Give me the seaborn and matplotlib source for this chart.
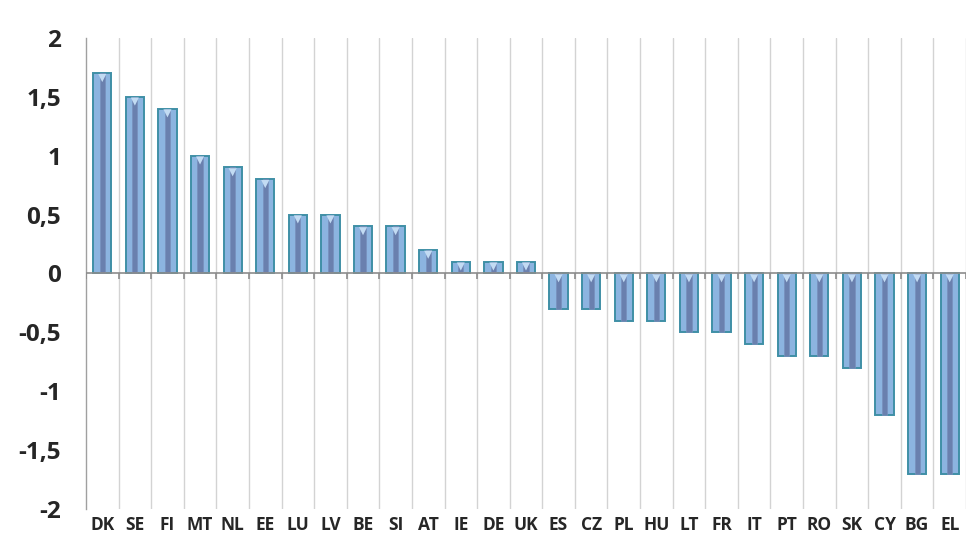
import matplotlib
matplotlib.use("Agg")
import matplotlib.pyplot as plt
import matplotlib.transforms as mtrans
import numpy as np
import pandas as pd
import seaborn as sns

countries = ["DK", "SE", "FI", "MT", "NL", "EE", "LU", "LV", "BE", "SI", "AT", "IE", "DE", "UK",
             "ES", "CZ", "PL", "HU", "LT", "FR", "IT", "PT", "RO", "SK", "CY", "BG", "EL"]
values = [1.7, 1.5, 1.4, 1.0, 0.9, 0.8, 0.5, 0.5, 0.4, 0.4, 0.2, 0.1, 0.1, 0.1,
          -0.3, -0.3, -0.4, -0.4, -0.5, -0.5, -0.6, -0.7, -0.7, -0.8, -1.2, -1.7, -1.7]
y_ticks = [2, 1.5, 1, 0.5, 0, -0.5, -1, -1.5, -2]
y_tick_labels = ["2", "1,5", "1", "0,5", "0", "-0,5", "-1", "-1,5", "-2"]

df = pd.DataFrame({"country": countries, "value": values})

sns.set_theme(style="white")
plt.rcParams["font.family"] = ["Open Sans", "DejaVu Sans"]

fig = plt.figure(figsize=(9.66, 5.48), dpi=100)
ax = fig.add_axes([0.089, 0.071, 0.911, 0.860])

# outer bevelled bar
sns.barplot(data=df, x="country", y="value", order=countries, ax=ax,
            color="#8CB4E0", saturation=1, width=0.56,
            edgecolor="#3F8FA6", linewidth=1.4, zorder=3)
# darker inner stripe
sns.barplot(data=df, x="country", y="value", order=countries, ax=ax,
            color="#6A80AE", saturation=1, width=0.16,
            edgecolor="#7890BC", linewidth=0.5, zorder=4)

# small highlight triangle at the top edge of each bar
n = len(countries)
pos = np.arange(n)
tops = np.maximum(np.array(values), 0)
tr = mtrans.offset_copy(ax.transData, fig=fig, y=-3.5, units="points")
ax.scatter(pos, tops, marker="v", s=34, color="#C2DBF3", edgecolors="none",
           transform=tr, zorder=5)

ax.set_xlim(-0.5, n - 0.5)
ax.set_ylim(-2, 2)

# vertical gridlines at category boundaries
for b in np.arange(n) + 0.5:
    ax.axvline(b, color="#D3D3D3", linewidth=1.0, zorder=1)
# zero line with small ticks at category boundaries
ax.axhline(0, color="#8C8C8C", linewidth=1.2, zorder=6)
ax.vlines(np.arange(n + 1) - 0.5, 0, -0.045, color="#8C8C8C", linewidth=1.2, zorder=6)

ax.set_yticks(y_ticks)
ax.set_yticklabels(y_tick_labels, fontsize=17.5, fontweight="bold")
ax.tick_params(axis="y", which="major", direction="out", length=6, width=1,
               color="#A0A0A0", pad=12)
ax.tick_params(axis="x", length=0, pad=5)
for lab in ax.get_xticklabels():
    lab.set_fontsize(12.5)
    lab.set_fontweight("bold")
ax.set_xlabel("")
ax.set_ylabel("")

for side in ["top", "right", "bottom"]:
    ax.spines[side].set_visible(False)
ax.spines["left"].set_color("#A0A0A0")
ax.spines["left"].set_linewidth(1.0)

fig.savefig("out.png", dpi=100)
